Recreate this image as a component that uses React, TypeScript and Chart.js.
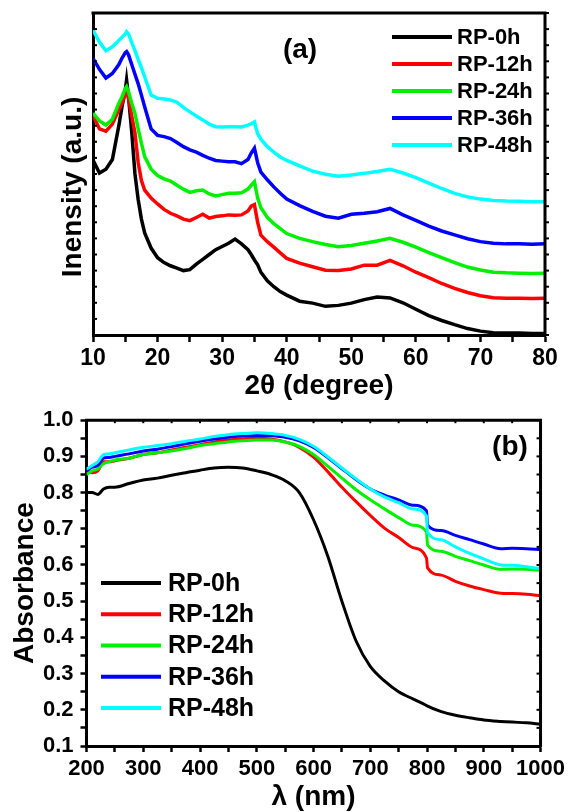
import React, { useEffect, useRef } from "react";
import { Chart, registerables } from "chart.js";

Chart.register(...registerables);

const FONT = "'Liberation Sans', Arial, Helvetica, sans-serif";

// ---------- shared series info ----------
const seriesLabels = ["RP-0h", "RP-12h", "RP-24h", "RP-36h", "RP-48h"];
const seriesColors = ["#000000", "#ff0000", "#00f000", "#0000ff", "#00ffff"];

// ---------- panel (a): XRD ----------
const xrdAngles = [10, 11, 12, 13, 14, 14.5, 15, 15.2, 15.5, 16, 16.5, 17, 17.5, 18, 19, 20, 21, 22, 23, 24, 25, 26, 27, 28, 29, 30, 31, 32, 33, 34, 34.5, 35, 35.5, 36, 37, 38, 39, 40, 42, 44, 46, 48, 50, 52, 54, 56, 58, 60, 62, 64, 66, 68, 70, 72, 74, 76, 78, 80];
const xrd0h = [54.3, 50.3, 51.5, 54.5, 65, 71, 76, 79.2, 74, 63, 50, 42, 36, 31.7, 27, 24, 22.5, 21.5, 20.8, 20.0, 20.3, 22, 23.5, 25, 26.5, 27.5, 28.5, 29.8, 28.3, 26.5, 25, 23.3, 21.8, 19.5, 16.8, 15, 13.5, 12.4, 10.5, 9.9, 8.9, 9.2, 9.9, 11.0, 11.8, 11.5, 10.0, 8.0, 6.0, 4.5, 3.2, 2.0, 1.2, 0.7, 0.6, 0.6, 0.5, 0.5];
const xrd12h = [68.3, 64, 63.3, 65.5, 70, 72, 75, 75.6, 73.5, 68, 62.7, 53.5, 48, 45, 42.5, 40.7, 39, 37.8, 37, 36, 35.5, 36.5, 37.5, 36.3, 36.8, 37, 37.3, 37.2, 37.3, 38.5, 40, 40.5, 35, 31, 29, 27.3, 25.5, 23.8, 22.3, 21.2, 20.1, 20, 20.5, 21.7, 21.7, 23.2, 21.5, 19.5, 17.8, 16, 14.5, 13.2, 12.2, 11.6, 11.4, 11.4, 11.3, 11.4];
const xrd24h = [68.9, 66.5, 65.2, 67, 72, 74, 76.5, 77.1, 75.5, 72, 68.8, 64, 59.5, 55.4, 51.5, 49.5, 48.5, 47.8, 46.5, 45.3, 44.3, 44.8, 45, 43.8, 43.2, 43.6, 44, 44, 44.2, 45.3, 46.5, 47.6, 42.5, 39.5, 36.5, 34.6, 33, 31.5, 30, 29, 28.1, 27.4, 27.8, 28.5, 29.2, 30, 28.8, 27.3, 25.6, 24, 22.5, 21.1, 20.2, 19.5, 19.3, 19.2, 19.1, 19.2];
const xrd36h = [85.9, 82.5, 79.8, 81.2, 84, 86, 87.7, 88, 87, 84, 81, 78, 74.5, 70.9, 64, 62, 61.6, 61, 59.8, 58.5, 57.5, 56.8, 55.8, 54.9, 54.2, 54, 53.8, 53.8, 53.2, 54.5, 56.5, 58, 53.5, 50.6, 48.2, 46, 44, 42.2, 40.2, 38.4, 36.9, 36.3, 37.5, 37.8, 38.3, 39.3, 37.3, 35.6, 33.8, 32.3, 31.1, 29.9, 29, 28.5, 28.3, 28.3, 28.2, 28.3];
const xrd48h = [94.7, 91, 88.3, 89.5, 91.5, 92.5, 93.5, 94.2, 93.5, 90.8, 88.3, 85.5, 83, 80.2, 74.5, 73.5, 73.3, 73, 72.3, 70.7, 69.3, 68, 66.8, 65.5, 64.7, 64.6, 64.7, 64.7, 64.6, 65.2, 65.6, 66.2, 62.5, 60.8, 58.5, 56.8, 55.3, 54.2, 52.5, 50.9, 49.9, 49.3, 49.7, 50.2, 50.8, 51.5, 50.3, 48.9, 47.2, 45.5, 44, 42.9, 42.2, 41.8, 41.6, 41.5, 41.4, 41.4];
const xrdSeries = [xrd0h, xrd12h, xrd24h, xrd36h, xrd48h];

// ---------- panel (b): UV-vis ----------
const uvWavelengths = [200, 210, 220, 230, 240, 250, 275, 300, 325, 350, 375, 400, 425, 450, 475, 500, 525, 550, 575, 600, 625, 650, 675, 700, 725, 750, 775, 799, 801, 825, 850, 875, 900, 930, 950, 975, 1000];
const uv0h = [0.8, 0.8, 0.795, 0.81, 0.815, 0.815, 0.825, 0.835, 0.84, 0.848, 0.855, 0.862, 0.868, 0.87, 0.868, 0.86, 0.85, 0.833, 0.8, 0.725, 0.625, 0.5, 0.39, 0.32, 0.28, 0.25, 0.23, 0.212, 0.21, 0.195, 0.185, 0.178, 0.172, 0.168, 0.166, 0.164, 0.16];
const uv12h = [0.86, 0.855, 0.86, 0.885, 0.885, 0.888, 0.895, 0.905, 0.91, 0.918, 0.925, 0.932, 0.94, 0.945, 0.948, 0.95, 0.948, 0.94, 0.925, 0.898, 0.858, 0.815, 0.775, 0.737, 0.702, 0.676, 0.648, 0.62, 0.592, 0.572, 0.555, 0.542, 0.532, 0.522, 0.521, 0.519, 0.515];
const uv24h = [0.85, 0.86, 0.865, 0.88, 0.885, 0.89, 0.895, 0.905, 0.91, 0.915, 0.922, 0.93, 0.935, 0.94, 0.943, 0.945, 0.945, 0.94, 0.928, 0.905, 0.873, 0.84, 0.808, 0.78, 0.755, 0.731, 0.71, 0.692, 0.655, 0.638, 0.624, 0.612, 0.6, 0.588, 0.589, 0.588, 0.585];
const uv36h = [0.86, 0.87, 0.875, 0.895, 0.897, 0.9, 0.907, 0.915, 0.92, 0.927, 0.935, 0.942, 0.948, 0.953, 0.956, 0.958, 0.957, 0.953, 0.943, 0.925, 0.897, 0.866, 0.836, 0.81, 0.793, 0.78, 0.765, 0.75, 0.71, 0.695, 0.682, 0.67, 0.658, 0.645, 0.646, 0.645, 0.643];
const uv48h = [0.865, 0.875, 0.885, 0.905, 0.907, 0.91, 0.918, 0.925, 0.93, 0.935, 0.942, 0.948, 0.955, 0.96, 0.963, 0.965, 0.963, 0.958, 0.947, 0.928, 0.899, 0.868, 0.838, 0.81, 0.788, 0.772, 0.755, 0.736, 0.69, 0.67, 0.65, 0.632, 0.617, 0.6, 0.599, 0.595, 0.59];
const uvSeries = [uv0h, uv12h, uv24h, uv36h, uv48h];

// ---------- decoration plugin (frame, panel label, legend, extra title) ----------
type Decor = {
  panelLabel: string;
  labelX: number;
  labelY: number;
  legX0: number;
  legX1: number;
  legTextX: number;
  legY0: number;
  legDy: number;
  legFont: number;
  leftTicks: number; // inward length on left axis (0 = none)
  rightTicks: number; // + outward, - inward
  topTicks: number;
  yTitle?: { text: string; x: number; y: number };
};

function decorPlugin(d: Decor) {
  return {
    id: "decor",
    afterDatasetsDraw(chart: any) {
      const { ctx, chartArea: a, scales } = chart;
      ctx.save();
      ctx.strokeStyle = "#000";
      ctx.fillStyle = "#000";
      // top and right frame
      ctx.lineWidth = 3;
      ctx.beginPath();
      ctx.moveTo(a.left - 1.5, a.top);
      ctx.lineTo(a.right, a.top);
      ctx.lineTo(a.right, a.bottom + 1.5);
      ctx.stroke();
      // mirror ticks
      ctx.lineWidth = 2;
      const ys = scales.y;
      ys.ticks.forEach((t: any) => {
        const py = ys.getPixelForValue(t.value);
        if (d.leftTicks) {
          ctx.beginPath();
          ctx.moveTo(a.left, py);
          ctx.lineTo(a.left + d.leftTicks, py);
          ctx.stroke();
        }
        if (d.rightTicks) {
          ctx.beginPath();
          ctx.moveTo(a.right, py);
          ctx.lineTo(a.right + d.rightTicks, py);
          ctx.stroke();
        }
      });
      if (d.topTicks) {
        const xs = scales.x;
        xs.ticks.forEach((t: any) => {
          const px = xs.getPixelForValue(t.value);
          ctx.beginPath();
          ctx.moveTo(px, a.top);
          ctx.lineTo(px, a.top + d.topTicks);
          ctx.stroke();
        });
      }
      // panel label
      ctx.font = `bold 28px ${FONT}`;
      ctx.textAlign = "center";
      ctx.textBaseline = "middle";
      ctx.fillText(d.panelLabel, d.labelX, d.labelY);
      // legend
      ctx.font = `bold ${d.legFont}px ${FONT}`;
      ctx.textAlign = "left";
      chart.data.datasets.forEach((ds: any, i: number) => {
        const y = d.legY0 + i * d.legDy;
        ctx.strokeStyle = ds.borderColor;
        ctx.lineWidth = 4;
        ctx.beginPath();
        ctx.moveTo(d.legX0, y);
        ctx.lineTo(d.legX1, y);
        ctx.stroke();
        ctx.fillStyle = "#000";
        ctx.fillText(ds.label, d.legTextX, y + 1);
      });
      // rotated y title
      if (d.yTitle) {
        ctx.save();
        ctx.translate(d.yTitle.x, d.yTitle.y);
        ctx.rotate(-Math.PI / 2);
        ctx.font = `bold 28px ${FONT}`;
        ctx.textAlign = "center";
        ctx.textBaseline = "middle";
        ctx.fillText(d.yTitle.text, 0, 0);
        ctx.restore();
      }
      ctx.restore();
    },
  };
}

const tickFont = { family: FONT, size: 22, weight: "bold" as const };
const titleFont = { family: FONT, size: 28, weight: "bold" as const, lineHeight: 1 };

function makeDatasets(xs: number[], series: number[][], width: number, smooth: boolean) {
  return series.map((vals, i) => ({
    label: seriesLabels[i],
    data: xs.map((x, j) => ({ x, y: vals[j] })),
    borderColor: seriesColors[i],
    backgroundColor: seriesColors[i],
    borderWidth: width,
    pointRadius: 0,
    fill: false,
    order: series.length - i,
    cubicInterpolationMode: smooth ? ("monotone" as const) : ("default" as const),
    tension: 0,
  }));
}

export default function App() {
  const refA = useRef<HTMLCanvasElement | null>(null);
  const refB = useRef<HTMLCanvasElement | null>(null);

  useEffect(() => {
    document.body.style.margin = "0";
    const chartA = new Chart(refA.current as HTMLCanvasElement, {
      type: "line",
      data: { datasets: makeDatasets(xrdAngles, xrdSeries, 3.5, false) as any },
      options: {
        animation: false,
        responsive: false,
        events: [],
        layout: { padding: { top: 13, right: 24, left: 0, bottom: 0 } },
        plugins: { legend: { display: false }, tooltip: { enabled: false } },
        scales: {
          x: {
            type: "linear",
            min: 10,
            max: 80,
            afterFit: (s: any) => {
              s.height = 65;
            },
            ticks: {
              stepSize: 5,
              autoSkip: false,
              maxRotation: 0,
              padding: 3,
              color: "#000",
              font: { ...tickFont, size: 23 },
              callback: (v: any) => (Number(v) % 10 === 0 ? String(v) : ""),
            },
            grid: { display: true, drawOnChartArea: false, drawTicks: true, tickLength: 7, tickWidth: 2.5, color: "#000" },
            border: { display: true, width: 3, color: "#000" },
            title: { display: true, text: "2θ (degree)", color: "#000", font: titleFont, padding: { top: 0, bottom: 0 } },
          },
          y: {
            type: "linear",
            min: 0,
            max: 100,
            afterFit: (s: any) => {
              s.width = 93;
            },
            ticks: { stepSize: 5, display: false },
            grid: { display: false },
            border: { display: true, width: 3, color: "#000" },
            title: { display: false },
          },
        },
      },
      plugins: [
        decorPlugin({
          panelLabel: "(a)",
          labelX: 300,
          labelY: 50,
          legX0: 392,
          legX1: 452,
          legTextX: 457,
          legY0: 37,
          legDy: 27,
          legFont: 22,
          leftTicks: 4,
          rightTicks: 4,
          topTicks: 0,
          yTitle: { text: "Inensity (a.u.)", x: 73, y: 187 },
        }),
      ],
    } as any);

    const chartB = new Chart(refB.current as HTMLCanvasElement, {
      type: "line",
      data: { datasets: makeDatasets(uvWavelengths, uvSeries, 3, true) as any },
      options: {
        animation: false,
        responsive: false,
        events: [],
        layout: { padding: { top: 20, right: 28, left: 0, bottom: 0 } },
        plugins: { legend: { display: false }, tooltip: { enabled: false } },
        scales: {
          x: {
            type: "linear",
            min: 200,
            max: 1000,
            afterFit: (s: any) => {
              s.height = 66;
            },
            ticks: {
              stepSize: 50,
              autoSkip: false,
              maxRotation: 0,
              padding: 4,
              color: "#000",
              font: tickFont,
              callback: (v: any) => (Number(v) % 100 === 0 ? String(v) : ""),
            },
            grid: { display: true, drawOnChartArea: false, drawTicks: true, tickLength: 6, tickWidth: 2.5, color: "#000" },
            border: { display: true, width: 3, color: "#000" },
            title: { display: true, text: "λ (nm)", color: "#000", font: titleFont, padding: { top: 0, bottom: 1 } },
          },
          y: {
            type: "linear",
            min: 0.1,
            max: 1.0,
            afterFit: (s: any) => {
              s.width = 86.5;
            },
            ticks: {
              stepSize: 0.05,
              autoSkip: false,
              padding: 7,
              color: "#000",
              font: tickFont,
              callback: (v: any) => {
                const n = Number(v);
                return Math.abs(n * 10 - Math.round(n * 10)) < 1e-6 ? n.toFixed(1) : "";
              },
            },
            grid: { display: true, drawOnChartArea: false, drawTicks: true, tickLength: 6, tickWidth: 2.5, color: "#000" },
            border: { display: true, width: 3, color: "#000" },
            title: { display: true, text: "Absorbance", color: "#000", font: titleFont, padding: { top: 11, bottom: 0 } },
          },
        },
      },
      plugins: [
        decorPlugin({
          panelLabel: "(b)",
          labelX: 510,
          labelY: 47,
          legX0: 101,
          legX1: 161,
          legTextX: 168,
          legY0: 183,
          legDy: 31.25,
          legFont: 25,
          leftTicks: 0,
          rightTicks: -4,
          topTicks: 3,
        }),
      ],
    } as any);

    return () => {
      chartA.destroy();
      chartB.destroy();
    };
  }, []);

  return (
    <div style={{ position: "absolute", left: 0, top: 0, width: 569, height: 812, background: "#fff" }}>
      <canvas ref={refA} width={569} height={400} style={{ position: "absolute", left: 0, top: 0 }} />
      <canvas ref={refB} width={569} height={412} style={{ position: "absolute", left: 0, top: 400 }} />
    </div>
  );
}
